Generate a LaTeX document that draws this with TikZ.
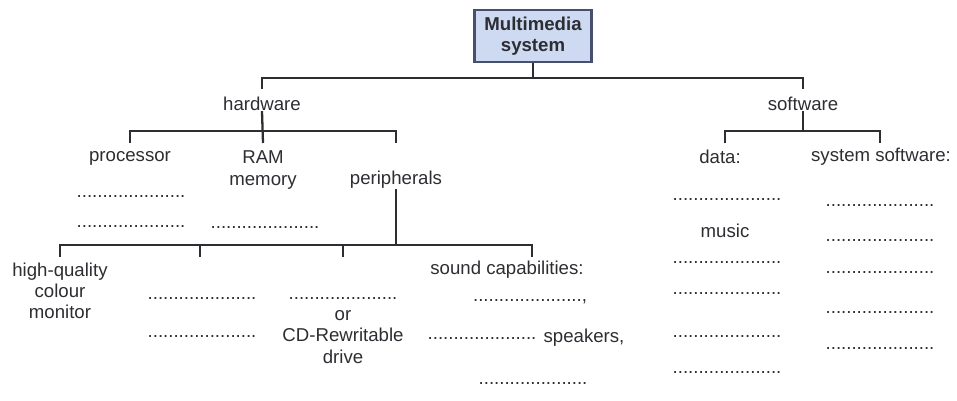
\documentclass[tikz,border=0pt]{standalone}
\usepackage{fontspec}
\setmainfont{Liberation Sans}
\usepackage{tikz}
\usetikzlibrary{positioning}
\definecolor{mmink}{RGB}{45,45,50}
\definecolor{mmbox}{RGB}{205,218,242}
\definecolor{mmedge}{RGB}{70,80,110}
\newcommand{\blank}{.....................}

\begin{document}
\begin{tikzpicture}[x=.02cm,y=-.02cm,
    font=\fontsize{10.6}{12}\selectfont,
    lbl/.style={inner sep=0pt,text=mmink,align=center},
    dots/.style={inner sep=0pt,text=mmink},
    tree/.style={draw=mmink,line width=1.3pt}]
    \useasboundingbox (0,0) rectangle (957,400);
    \node[draw=mmedge,line width=1.2pt,fill=mmbox,minimum width=2.34cm,minimum height=1.04cm,
      align=center,font=\fontsize{10.6}{12}\selectfont\bfseries,text=mmink] (ms) at (533,36) {Multimedia\\system};
    \node[lbl] (hw) at (262,104) {hardware};
    \node[lbl] (sw) at (803,104) {software};
    \node[lbl] (proc) at (130,158) {processor};
    \node[lbl] (ram) at (263,170) {RAM\\memory};
    \node[lbl] (peri) at (396,180) {peripherals};
    \node[lbl] (mon) at (60,291) {high-quality\\colour\\monitor};
    \node[lbl] (cd) at (343,337) {or\\CD-Rewritable\\drive};
    \node[lbl] (snd) at (507,270) {sound capabilities:};
    \node[lbl] (spk) at (584,338) {speakers,};
    \node[dots] (sc2) at (482,338) {\blank};
    \node[lbl] (data) at (720,157) {data:};
    \node[lbl] (syssw) at (881,157) {system software:};
    \node[lbl] (music) at (725,231) {music};
    \node[dots] (pr1) at (131,196) {\blank};
    \node[dots] (pr2) at (131,226) {\blank};
    \node[dots] (rm1) at (265,227) {\blank};
    \node[dots] (pa1) at (202,298) {\blank};
    \node[dots] (pa2) at (202,336) {\blank};
    \node[dots] (pb1) at (343,298) {\blank};
    \node[dots] (sc1) at (530,302) {\blank,};
    \node[dots] (sc3) at (533,383) {\blank};
    \foreach \y [count=\i] in {199,262,293,336,372}
      \node[dots] (da\i) at (727,\y) {\blank};
    \foreach \y [count=\i] in {205,240,272,312,348}
      \node[dots] (ss\i) at (880,\y) {\blank};
    \coordinate (msbus) at (533,78);
    \coordinate (hwtop) at (262,89);
    \coordinate (swtop) at (803,89);
    \coordinate (hbus) at (263,131);
    \coordinate (hmid) at (263,143);
    \coordinate (h1) at (130,143);
    \coordinate (h3) at (396,143);
    \coordinate (pbus) at (396,245);
    \coordinate (m1) at (60,257);
    \coordinate (m2) at (200,257);
    \coordinate (m3) at (343,257);
    \coordinate (m4) at (532,257);
    \coordinate (sbus) at (803,131);
    \coordinate (s1) at (725,143);
    \coordinate (s2) at (880,143);
    \draw[tree] (ms.south) -- (msbus);
    \draw[tree] (hwtop) |- (msbus) -| (swtop);
    \draw[tree] (hw.south) -- (hmid);
    \draw[tree] (h1) |- (hbus) -| (h3);
    \draw[tree] (peri.south) -- (pbus);
    \draw[tree] (m1) |- (pbus) -| (m4);
    \draw[tree] (m2) -- (m2 |- pbus);
    \draw[tree] (m3) -- (m3 |- pbus);
    \draw[tree] (sw.south) -- (sbus);
    \draw[tree] (s1) |- (sbus) -| (s2);
  \end{tikzpicture}
\end{document}
